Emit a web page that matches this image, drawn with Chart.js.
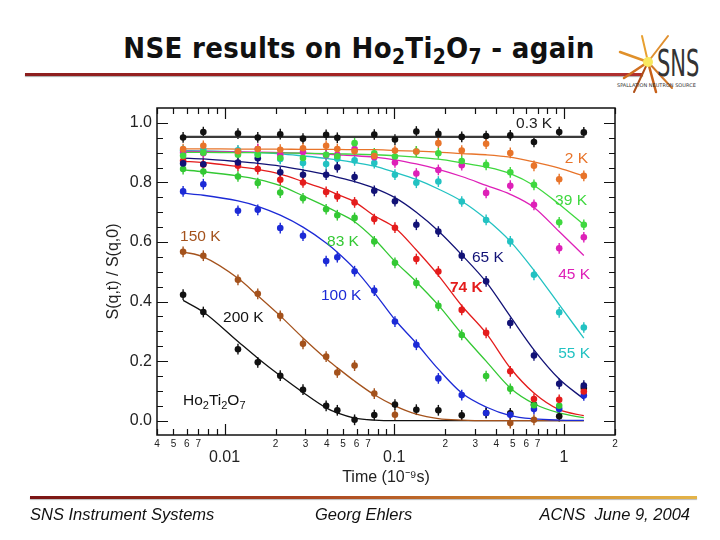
<!DOCTYPE html>
<html><head><meta charset="utf-8">
<script src="https://cdn.jsdelivr.net/npm/chart.js@4.4.0/dist/chart.umd.min.js"></script>
<style>
html,body{margin:0;padding:0;background:#fff;}
#wrap{position:relative;width:720px;height:540px;overflow:hidden;background:#fff;}
#c{position:absolute;left:0;top:0;}
.title{position:absolute;left:0;width:718px;top:31px;text-align:center;font-family:'DejaVu Sans Condensed','DejaVu Sans',sans-serif;font-weight:bold;font-size:29px;color:#111;white-space:nowrap;letter-spacing:0.3px;}
.title sub{font-size:0.72em;vertical-align:-0.28em;line-height:0;}
.redline{position:absolute;left:25px;top:73px;width:618px;height:3px;background:linear-gradient(to right,#8c1e1e,#a82424 60%,#b03030);box-shadow:0 1px 1px #aaa;}
.footline{position:absolute;left:30px;top:496px;width:667px;height:3px;background:linear-gradient(to right,#7a1414,#a84020 40%,#d08a30 75%,#e4b448);box-shadow:0 1px 1px #bbb;}
.foot{position:absolute;top:505px;font-family:'Liberation Sans',Arial,sans-serif;font-style:italic;font-size:16.5px;color:#111;white-space:nowrap;}
#logo{position:absolute;left:612px;top:28px;}
</style></head>
<body><div id="wrap">
<div class="title">NSE results on Ho<sub>2</sub>Ti<sub>2</sub>O<sub>7</sub> - again</div>
<div class="redline"></div>
<svg id="logo" width="105" height="72" viewBox="0 0 105 72">
  <g stroke-linecap="round">
    <line x1="36" y1="34" x2="8" y2="24" stroke="#e0902a" stroke-width="2.5"/>
    <line x1="36" y1="34" x2="12" y2="50" stroke="#d07020" stroke-width="2.5"/>
    <line x1="36" y1="34" x2="30" y2="8" stroke="#e8a030" stroke-width="2"/>
    <line x1="36" y1="34" x2="44" y2="64" stroke="#c86018" stroke-width="2.5"/>
    <line x1="36" y1="34" x2="60" y2="60" stroke="#d07828" stroke-width="2"/>
    <line x1="36" y1="34" x2="56" y2="8" stroke="#e09030" stroke-width="2"/>
    <line x1="36" y1="34" x2="22" y2="64" stroke="#b05018" stroke-width="2"/>
    <circle cx="36" cy="34" r="5" fill="#f8e860"/>
  </g>
  <text x="45" y="48" font-family="'DejaVu Sans Condensed','DejaVu Sans'" font-size="26" fill="#333" transform="scale(0.9,1.45)" transform-origin="45 48">SNS</text>
  <text x="5" y="59" font-family="'DejaVu Sans'" font-size="5" fill="#333">SPALLATION NEUTRON SOURCE</text>
</svg>
<canvas id="c" width="720" height="540"></canvas>
<div class="footline"></div>
<div class="foot" style="left:30px;">SNS Instrument Systems</div>
<div class="foot" style="left:315px;">Georg Ehlers</div>
<div class="foot" style="right:30px;">ACNS&nbsp; June 9, 2004</div>
</div>
<script>
// ---------- data (time in 10^-9 s) ----------
const timeNs = [0.0057, 0.0075, 0.012, 0.0157, 0.0213, 0.029, 0.0397, 0.0462, 0.0584, 0.0763, 0.101, 0.135, 0.182, 0.25, 0.348, 0.483, 0.666, 0.938, 1.31];
const temperatures = ['0.3 K', '2 K', '39 K', '45 K', '55 K', '65 K', '74 K', '83 K', '100 K', '150 K', '200 K'];

const pts_0_3K = [0.951, 0.969, 0.964, 0.951, 0.962, 0.947, 0.960, 0.950, null, 0.961, 0.944, 0.971, 0.963, 0.953, 0.956, 0.958, 0.936, 0.969, 0.968];
const fit_0_3K = [0.953, 0.953, 0.953, 0.953, 0.953, 0.953, 0.953, 0.953, 0.953, 0.953, 0.953, 0.953, 0.953, 0.953, 0.953, 0.953, 0.953, 0.953, 0.953];

const pts_2K = [0.912, 0.923, 0.905, 0.912, 0.910, 0.915, 0.923, 0.912, 0.905, 0.889, 0.907, 0.904, 0.932, 0.907, 0.930, 0.899, 0.856, 0.811, 0.822];
const fit_2K = [0.913, 0.913, 0.912, 0.912, 0.912, 0.911, 0.911, 0.911, 0.910, 0.910, 0.907, 0.905, 0.902, 0.897, 0.893, 0.885, 0.869, 0.848, 0.822];

const pts_39K = [0.890, 0.900, 0.893, 0.893, 0.882, 0.882, 0.893, 0.888, 0.932, 0.898, 0.887, 0.904, 0.898, 0.872, 0.859, 0.834, 0.792, 0.666, 0.658];
const fit_39K = [0.901, 0.901, 0.900, 0.900, 0.899, 0.898, 0.897, 0.896, 0.895, 0.893, 0.890, 0.885, 0.878, 0.866, 0.852, 0.830, 0.790, 0.727, 0.658];

const pts_45K = [0.900, 0.898, 0.900, 0.912, 0.893, 0.902, 0.891, 0.893, 0.912, 0.885, 0.867, 0.830, 0.842, 0.858, 0.765, 0.789, 0.725, 0.579, 0.616];
const fit_45K = [0.905, 0.904, 0.903, 0.902, 0.900, 0.898, 0.895, 0.893, 0.890, 0.885, 0.876, 0.862, 0.844, 0.820, 0.790, 0.760, 0.716, 0.635, 0.555];

const pts_55K = [0.907, 0.909, 0.908, 0.895, 0.879, 0.865, 0.862, 0.880, 0.874, 0.865, 0.826, 0.799, 0.803, 0.736, 0.674, 0.602, 0.490, 0.364, 0.313];
const fit_55K = [0.907, 0.906, 0.903, 0.900, 0.896, 0.889, 0.881, 0.876, 0.867, 0.855, 0.834, 0.810, 0.778, 0.737, 0.677, 0.602, 0.505, 0.390, 0.277];

const pts_65K = [0.864, 0.861, 0.867, 0.881, 0.834, 0.826, 0.826, 0.851, 0.818, 0.772, 0.737, 0.658, 0.635, 0.554, 0.468, 0.328, 0.219, 0.124, 0.118];
const fit_65K = [0.882, 0.879, 0.870, 0.864, 0.855, 0.842, 0.827, 0.818, 0.803, 0.781, 0.749, 0.700, 0.637, 0.557, 0.466, 0.350, 0.238, 0.140, 0.073];

const pts_74K = [0.873, 0.860, 0.856, 0.845, 0.809, 0.800, 0.768, 0.753, 0.733, 0.677, 0.648, 0.543, 0.501, 0.372, 0.295, 0.166, 0.073, 0.070, 0.098];
const fit_74K = [0.871, 0.867, 0.853, 0.844, 0.828, 0.803, 0.776, 0.760, 0.735, 0.688, 0.648, 0.573, 0.488, 0.386, 0.294, 0.177, 0.093, 0.037, 0.017];

const pts_83K = [0.845, 0.837, 0.820, 0.798, 0.766, 0.747, 0.710, 0.690, 0.681, 0.602, 0.530, 0.462, 0.386, 0.288, 0.150, 0.107, 0.052, 0.050, null];
const fit_83K = [0.842, 0.836, 0.822, 0.810, 0.789, 0.755, 0.719, 0.700, 0.668, 0.610, 0.535, 0.466, 0.388, 0.292, 0.200, 0.110, 0.057, 0.026, 0.010];

const pts_100K = [0.770, 0.794, 0.705, 0.708, 0.647, 0.621, 0.536, 0.549, 0.502, 0.437, 0.333, 0.255, 0.142, 0.086, 0.026, 0.020, 0.039, 0.039, 0.085];
const fit_100K = [0.764, 0.757, 0.738, 0.720, 0.690, 0.650, 0.597, 0.566, 0.510, 0.430, 0.339, 0.260, 0.173, 0.093, 0.046, 0.017, 0.006, 0.002, 0.001];

const pts_150K = [0.567, 0.554, 0.473, 0.426, 0.352, 0.258, 0.215, 0.162, 0.185, 0.091, 0.020, null, null, null, null, -0.008, 0.003, null, null];
const fit_150K = [0.567, 0.550, 0.478, 0.420, 0.352, 0.278, 0.208, 0.178, 0.133, 0.087, 0.050, 0.022, 0.007, 0.002, 0.000, 0.000, 0.000, 0.000, 0.000];

const pts_200K = [0.423, 0.365, 0.240, 0.196, 0.151, 0.104, 0.050, 0.035, 0.003, 0.019, 0.054, 0.037, 0.035, 0.018, 0.026, 0.025, 0.054, 0.015, 0.110];
const fit_200K = [0.404, 0.365, 0.266, 0.210, 0.151, 0.095, 0.043, 0.026, 0.009, 0.002, 0.000, 0.000, 0.000, 0.000, 0.000, 0.000, 0.000, 0.000, 0.000];

const errorHalf = 0.018;

// axis ticks
const xTickValues = [0.004,0.005,0.006,0.007,0.008,0.009,0.01,0.02,0.03,0.04,0.05,0.06,0.07,0.08,0.09,0.1,0.2,0.3,0.4,0.5,0.6,0.7,0.8,0.9,1,2];
const xTickLabels = ['4','5','6','7','','','0.01','2','3','4','5','6','7','','','0.1','2','3','4','5','6','7','','','1','2'];
const xMajorValues = [0.01, 0.1, 1];
const yTickValues = [0, 0.2, 0.4, 0.6, 0.8, 1.0];
const yTickLabels = ['0.0', '0.2', '0.4', '0.6', '0.8', '1.0'];
const yMinorTickValues = [0.05,0.1,0.15,0.25,0.3,0.35,0.45,0.5,0.55,0.65,0.7,0.75,0.85,0.9,0.95];

// ---------- styles ----------
const allPts = [pts_0_3K, pts_2K, pts_39K, pts_45K, pts_55K, pts_65K, pts_74K, pts_83K, pts_100K, pts_150K, pts_200K];
const allFits = [fit_0_3K, fit_2K, fit_39K, fit_45K, fit_55K, fit_65K, fit_74K, fit_83K, fit_100K, fit_150K, fit_200K];
const pointColors = ['#111111', '#e8742a', '#3fd83f', '#de20b8', '#22c2c2', '#121276', '#e41c1c', '#33c833', '#1c2ad6', '#a4521c', '#111111'];
const lineColors  = ['#3a3a3a', '#e8742a', '#3fd83f', '#de20b8', '#22c2c2', '#121276', '#e41c1c', '#33c833', '#1c2ad6', '#a4521c', '#111111'];

const datasets = [];
temperatures.forEach((name, k) => {
  datasets.push({
    label: name + ' fit',
    data: timeNs.map((t, i) => ({x: t, y: allFits[k][i]})),
    showLine: true,
    borderColor: lineColors[k],
    borderWidth: k === 0 ? 2.2 : 1.3,
    pointRadius: 0,
    cubicInterpolationMode: 'monotone',
    order: 2
  });
  datasets.push({
    label: name,
    data: timeNs.map((t, i) => allPts[k][i] === null ? null : ({x: t, y: allPts[k][i]})).filter(p => p !== null),
    showLine: false,
    backgroundColor: pointColors[k],
    borderColor: pointColors[k],
    borderWidth: 0,
    pointRadius: 3.3,
    order: 1
  });
});

const annotations = [
  {text: '0.3 K', t: 0.522, v: 0.997, color: '#222', align: 'left'},
  {text: '2 K', t: 1.387, v: 0.881, color: '#e8742a', align: 'right'},
  {text: '39 K', t: 1.368, v: 0.738, color: '#3fd83f', align: 'right'},
  {text: '45 K', t: 1.425, v: 0.490, color: '#de20b8', align: 'right'},
  {text: '55 K', t: 1.425, v: 0.225, color: '#22c2c2', align: 'right'},
  {text: '65 K', t: 0.287, v: 0.547, color: '#121276', align: 'left'},
  {text: '74 K', t: 0.213, v: 0.446, color: '#e41c1c', align: 'left', bold: true},
  {text: '83 K', t: 0.0402, v: 0.601, color: '#33c833', align: 'left'},
  {text: '100 K', t: 0.0370, v: 0.419, color: '#1c2ad6', align: 'left'},
  {text: '150 K', t: 0.00547, v: 0.617, color: '#a4521c', align: 'left'},
  {text: '200 K', t: 0.0098, v: 0.346, color: '#111', align: 'left'}
];

const decor = {
  id: 'decor',
  beforeDatasetsDraw(chart) {
    const ctx = chart.ctx, xs = chart.scales.x, ys = chart.scales.y;
    ctx.save();
    ctx.lineWidth = 1.4;
    temperatures.forEach((name, k) => {
      ctx.strokeStyle = pointColors[k];
      allPts[k].forEach((v, i) => {
        if (v === null) return;
        const px = xs.getPixelForValue(timeNs[i]);
        ctx.beginPath();
        ctx.moveTo(px, ys.getPixelForValue(v - errorHalf));
        ctx.lineTo(px, ys.getPixelForValue(v + errorHalf));
        ctx.stroke();
      });
    });
    ctx.restore();
  },
  afterDraw(chart) {
    const ctx = chart.ctx, xs = chart.scales.x, ys = chart.scales.y, a = chart.chartArea;
    ctx.save();
    // frame
    ctx.strokeStyle = '#111';
    ctx.lineWidth = 1.5;
    ctx.strokeRect(a.left, a.top, a.right - a.left, a.bottom - a.top);
    // inward ticks
    ctx.lineWidth = 1.2;
    ctx.beginPath();
    xTickValues.forEach(v => {
      const px = Math.round(xs.getPixelForValue(v)) + 0.5;
      const len = xMajorValues.includes(v) ? 11 : 6;
      ctx.moveTo(px, a.bottom); ctx.lineTo(px, a.bottom - len);
      ctx.moveTo(px, a.top); ctx.lineTo(px, a.top + len);
    });
    yTickValues.forEach(v => {
      const py = Math.round(ys.getPixelForValue(v)) + 0.5;
      ctx.moveTo(a.left, py); ctx.lineTo(a.left + 11, py);
      ctx.moveTo(a.right, py); ctx.lineTo(a.right - 11, py);
    });
    yMinorTickValues.forEach(v => {
      const py = Math.round(ys.getPixelForValue(v)) + 0.5;
      ctx.moveTo(a.left, py); ctx.lineTo(a.left + 6, py);
      ctx.moveTo(a.right, py); ctx.lineTo(a.right - 6, py);
    });
    ctx.stroke();
    // annotations
    ctx.textBaseline = 'middle';
    annotations.forEach(an => {
      ctx.font = (an.bold ? 'bold ' : '') + '15.5px "Liberation Sans", Arial, sans-serif';
      ctx.fillStyle = an.color;
      ctx.textAlign = an.align;
      ctx.fillText(an.text, xs.getPixelForValue(an.t), ys.getPixelForValue(an.v));
    });
    // compound label Ho2Ti2O7
    let x = xs.getPixelForValue(0.00569);
    const y = ys.getPixelForValue(0.066);
    ctx.textAlign = 'left';
    ctx.fillStyle = '#111';
    const parts = [['Ho', false], ['2', true], ['Ti', false], ['2', true], ['O', false], ['7', true]];
    parts.forEach(([s, sub]) => {
      ctx.font = (sub ? '11px' : '15.5px') + ' "Liberation Sans", Arial, sans-serif';
      ctx.fillText(s, x, sub ? y + 5 : y);
      x += ctx.measureText(s).width;
    });
    ctx.restore();
  }
};

new Chart(document.getElementById('c'), {
  type: 'scatter',
  data: {datasets},
  plugins: [decor],
  options: {
    responsive: false,
    animation: false,
    devicePixelRatio: 1,
    layout: {padding: {left: 95, right: 105, top: 108, bottom: 45}},
    plugins: {legend: {display: false}, tooltip: {enabled: false}},
    scales: {
      x: {
        type: 'logarithmic',
        min: 0.004, max: 2,
        grid: {display: false, drawTicks: false},
        border: {display: false},
        afterFit: s => { s.height = 60; },
        afterBuildTicks: s => { s.ticks = xTickValues.map(v => ({value: v, major: xMajorValues.includes(v)})); },
        ticks: {
          autoSkip: false, maxRotation: 0, minRotation: 0, padding: 3,
          color: '#222',
          font: ctx => (ctx.tick && xMajorValues.includes(ctx.tick.value))
            ? {family: '"Liberation Sans", Arial, sans-serif', size: 16, lineHeight: 0.83}
            : {family: '"Liberation Sans", Arial, sans-serif', size: 10, lineHeight: 1.2},
          callback: (v, i) => {
            const lab = xTickLabels[i];
            return xMajorValues.includes(xTickValues[i]) ? ['', lab] : lab;
          }
        },
        title: {display: true, text: 'Time (10\u207B\u2079s)', color: '#222',
          font: {family: '"Liberation Sans", Arial, sans-serif', size: 16}, padding: {top: 0, bottom: 8}}
      },
      y: {
        type: 'linear',
        min: -0.048, max: 1.05,
        bounds: 'data',
        grid: {display: false, drawTicks: false},
        border: {display: false},
        afterFit: s => { s.width = 62; },
        afterBuildTicks: s => { s.ticks = yTickValues.map(v => ({value: v})); },
        ticks: {
          autoSkip: false, padding: 5, color: '#222',
          font: {family: '"Liberation Sans", Arial, sans-serif', size: 16},
          callback: (v, i) => yTickLabels[i]
        },
        title: {display: true, text: 'S(q,t) / S(q,0)', color: '#222',
          font: {family: '"Liberation Sans", Arial, sans-serif', size: 16}, padding: {top: 9, bottom: 0}}
      }
    }
  }
});
</script>
</body></html>
